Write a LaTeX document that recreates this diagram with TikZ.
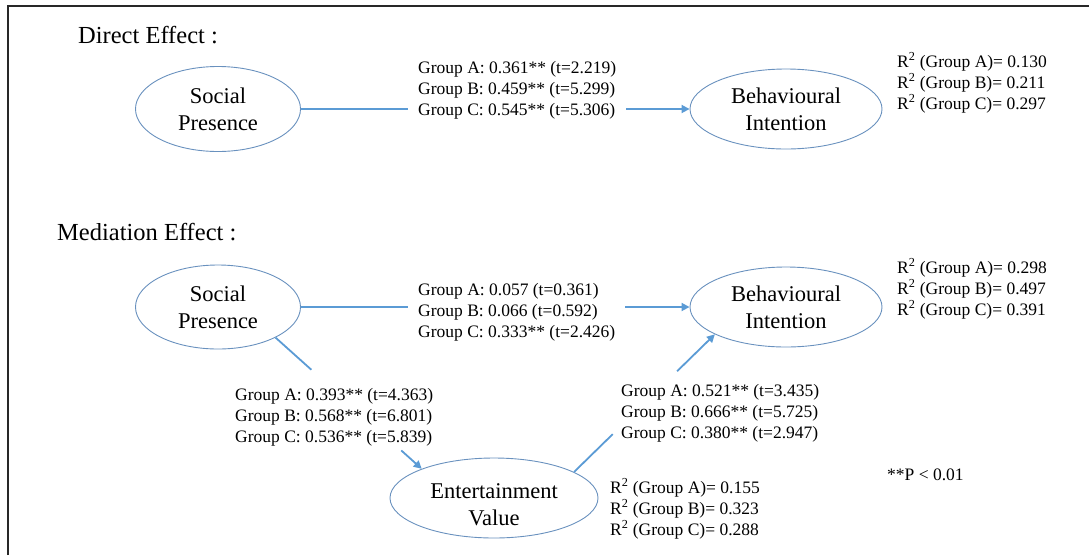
\documentclass[tikz,border=0pt]{standalone}
\usepackage{fontspec}
\setmainfont{Liberation Serif}
\usetikzlibrary{shapes.geometric,arrows.meta,calc}
\definecolor{lineblue}{RGB}{91,155,213}
\definecolor{ellblue}{RGB}{105,145,190}
\definecolor{framegray}{RGB}{40,40,40}
\begin{document}
\begin{tikzpicture}[x=1pt,y=-1pt,
  latent/.style={ellipse, draw=ellblue, line width=0.9pt, inner sep=0pt, align=center,
    font=\fontsize{22.5}{27}\selectfont},
  lab/.style={anchor=base west, align=left, inner sep=0pt, font=\fontsize{17.5}{21}\selectfont},
  ttl/.style={anchor=base west, inner sep=0pt, font=\fontsize{24.5}{28}\selectfont},
  conn/.style={draw=lineblue, line width=1.8pt},
  arr/.style={conn, -{Triangle[length=8pt,width=8pt]}}]
\useasboundingbox (0,0) rectangle (1089,555);
\draw[framegray, line width=1.6pt] (8,555) -- (8,6) -- (1089,6);

% Direct effect
\node[ttl] (t1) at (78,43) {Direct Effect :};
\node[latent, minimum width=165pt, minimum height=85pt] (sp1) at (218,109) {Social\\Presence};
\node[latent, minimum width=192pt, minimum height=80pt] (bi1) at (786,109) {Behavioural\\Intention};
\node[lab] (l1) at (418,115) {Group A: 0.361** (t=2.219)\\Group B: 0.459** (t=5.299)\\Group C: 0.545** (t=5.306)};
\node[lab] (r1) at (897,109) {R\textsuperscript{2} (Group A)= 0.130\\R\textsuperscript{2} (Group B)= 0.211\\R\textsuperscript{2} (Group C)= 0.297};
\draw[conn] (sp1.east) -- ([xshift=-10pt]sp1.east -| l1.west);
\draw[arr] ([xshift=10pt]l1.east |- bi1.west) -- (bi1.west);

% Mediation effect
\node[ttl] (t2) at (57,240) {Mediation Effect :};
\node[latent, minimum width=165pt, minimum height=84pt] (sp2) at (218,307) {Social\\Presence};
\node[latent, minimum width=192pt, minimum height=80pt] (bi2) at (786,307) {Behavioural\\Intention};
\node[latent, minimum width=208pt, minimum height=80pt] (ev) at (494,498) {\rule{0pt}{28pt}Entertainment\\Value};
\node[lab] (l2) at (418,337) {Group A: 0.057 (t=0.361)\\Group B: 0.066 (t=0.592)\\Group C: 0.333** (t=2.426)};
\node[lab] (r2) at (897,315) {R\textsuperscript{2} (Group A)= 0.298\\R\textsuperscript{2} (Group B)= 0.497\\R\textsuperscript{2} (Group C)= 0.391};
\node[lab] (l3) at (235,442) {Group A: 0.393** (t=4.363)\\Group B: 0.568** (t=6.801)\\Group C: 0.536** (t=5.839)};
\node[lab] (l4) at (621,438) {Group A: 0.521** (t=3.435)\\Group B: 0.666** (t=5.725)\\Group C: 0.380** (t=2.947)};
\node[lab] (r3) at (610,535) {R\textsuperscript{2} (Group A)= 0.155\\R\textsuperscript{2} (Group B)= 0.323\\R\textsuperscript{2} (Group C)= 0.288};
\node[lab] (p) at (887,480) {**P {\textless} 0.01};

\draw[conn] (sp2.east) -- ([xshift=-10pt]sp2.east -| l2.west);
\draw[arr] ([xshift=10pt]l2.east |- bi2.west) -- (bi2.west);
\draw[conn] (sp2.-28) -- ($(sp2.-28)!0.245!(ev.158)$);
\draw[arr] ($(sp2.-28)!0.86!(ev.158)$) -- (ev.158);
\draw[conn] (ev.18) -- ($(ev.18)!0.275!(bi2.201)$);
\draw[arr] ($(ev.18)!0.732!(bi2.201)$) -- (bi2.201);
\end{tikzpicture}
\end{document}
